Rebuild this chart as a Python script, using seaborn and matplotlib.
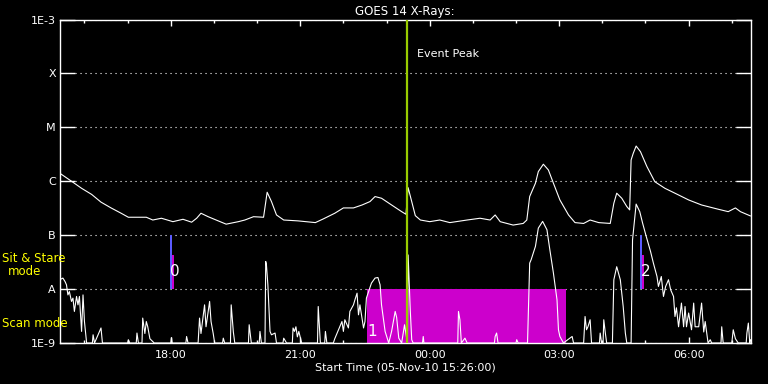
import numpy as np
import pandas as pd
import matplotlib
matplotlib.use("Agg")
import matplotlib.pyplot as plt
import matplotlib.dates as mdates
from matplotlib.ticker import FixedLocator, FixedFormatter, NullLocator
import seaborn as sns

# GOES 14 X-ray flux (minutes after start, W/m^2)
start = pd.Timestamp("2010-11-05 15:26:00")
end = pd.Timestamp("2010-11-06 07:26:00")

long_min = [0, 16, 30, 44, 57, 71, 85, 95, 120, 129, 141, 157, 171, 183, 190, 196,
            206, 220, 231, 248, 257, 269, 283, 288, 294, 301, 311, 331, 355, 366,
            382, 394, 408, 420, 431, 438, 447, 461, 475, 481, 484, 489, 494, 501,
            514, 528, 542, 566, 584, 598, 605, 612, 630, 644, 649, 653, 661, 665,
            672, 679, 686, 695, 707, 716, 728, 737, 749, 765, 770, 774, 781, 788,
            792, 794, 797, 801, 807, 816, 827, 841, 855, 874, 892, 915, 929, 939,
            946, 960]
long_flux = [1.4e-6, 1.0e-6, 7.4e-7, 5.7e-7, 4.1e-7, 3.2e-7, 2.55e-7, 2.15e-7,
             2.15e-7, 1.91e-7, 2.06e-7, 1.78e-7, 1.97e-7, 1.74e-7, 2.06e-7, 2.55e-7,
             2.2e-7, 1.84e-7, 1.6e-7, 1.78e-7, 1.91e-7, 2.2e-7, 2.15e-7, 6.25e-7,
             4.2e-7, 2.37e-7, 1.91e-7, 1.84e-7, 1.71e-7, 2.0e-7, 2.55e-7, 3.2e-7,
             3.2e-7, 3.63e-7, 4.2e-7, 5.2e-7, 4.84e-7, 3.63e-7, 2.73e-7, 2.44e-7,
             7.6e-7, 4.2e-7, 2.3e-7, 1.91e-7, 1.78e-7, 1.91e-7, 1.71e-7, 1.91e-7,
             2.06e-7, 1.91e-7, 2.37e-7, 1.78e-7, 1.54e-7, 1.65e-7, 1.91e-7, 5.2e-7,
             9.2e-7, 1.51e-6, 2.07e-6, 1.62e-6, 9.2e-7, 4.5e-7, 2.37e-7, 1.71e-7,
             1.65e-7, 1.91e-7, 1.71e-7, 1.65e-7, 3.9e-7, 6.0e-7, 4.84e-7, 3.4e-7,
             2.94e-7, 2.48e-6, 3.3e-6, 4.5e-6, 3.54e-6, 1.87e-6, 9.8e-7, 7.4e-7,
             6.0e-7, 4.5e-7, 3.63e-7, 3.03e-7, 2.73e-7, 3.2e-7, 2.73e-7, 2.27e-7]

short_min = [0, 4, 7, 9, 11, 13, 16, 18, 20, 23, 25, 27, 30, 32, 34, 37, 45, 46, 48,
             57, 59, 94, 95, 97, 106, 107, 109, 114, 115, 118, 120, 122, 125, 131,
             154, 155, 156, 175, 176, 178, 192, 194, 196, 201, 203, 208, 210, 213,
             215, 226, 227, 229, 237, 238, 241, 243, 262, 263, 266, 277, 278, 280,
             285, 286, 287, 289, 292, 294, 299, 301, 310, 311, 315, 323, 324, 326,
             328, 330, 332, 336, 358, 359, 362, 368, 369, 371, 380, 382, 392, 394,
             396, 401, 403, 408, 410, 413, 415, 417, 422, 424, 426, 429, 433, 438,
             442, 445, 447, 452, 457, 461, 466, 468, 471, 475, 479, 482, 483, 484,
             487, 489, 491, 504, 505, 506, 553, 554, 556, 558, 563, 566, 604, 605,
             607, 609, 634, 635, 637, 650, 651, 653, 655, 661, 665, 671, 677, 681,
             686, 691, 693, 695, 700, 707, 712, 714, 728, 730, 732, 734, 737, 739,
             750, 751, 753, 755, 756, 758, 760, 768, 770, 774, 779, 783, 786, 788,
             794, 796, 801, 806, 810, 815, 821, 825, 830, 832, 836, 839, 842, 846,
             849, 853, 855, 857, 860, 864, 867, 869, 871, 874, 878, 881, 883, 888,
             892, 895, 897, 901, 904, 906, 919, 920, 922, 934, 936, 939, 943, 954,
             955, 957, 959, 960]
short_flux = [1.5e-8, 1.6e-8, 1.38e-8, 1.2e-8, 7.8e-9, 9.0e-9, 5.9e-9, 6.8e-9, 3.85e-9,
              7.3e-9, 5.1e-9, 7.3e-9, 1.64e-9, 7.8e-9, 2.5e-9, 1e-9, 1e-9, 1.42e-9,
              1e-9, 1.9e-9, 1e-9, 1e-9, 1.15e-9, 1e-9, 1e-9, 1.53e-9, 1e-9, 1e-9,
              2.9e-9, 1.5e-9, 2.5e-9, 2.0e-9, 1.2e-9, 1e-9, 1e-9, 1.26e-9, 1e-9,
              1e-9, 1.32e-9, 1e-9, 1e-9, 2.9e-9, 1.5e-9, 5.1e-9, 2.0e-9, 5.9e-9,
              2.5e-9, 1.5e-9, 1e-9, 1e-9, 1.23e-9, 1e-9, 1e-9, 5.1e-9, 1.6e-9, 1e-9,
              1e-9, 2.18e-9, 1e-9, 1e-9, 1.64e-9, 1e-9, 1e-9, 3.25e-8, 2.82e-8,
              1.2e-8, 1.64e-9, 1.42e-9, 1.53e-9, 1e-9, 1e-9, 1.23e-9, 1e-9, 1e-9,
              1.9e-9, 1.64e-9, 2.0e-9, 1.3e-9, 1.64e-9, 1e-9, 1e-9, 4.75e-9, 1e-9,
              1e-9, 1.64e-9, 1e-9, 1e-9, 1.2e-9, 2.5e-9, 1.64e-9, 2.7e-9, 1.9e-9,
              3.85e-9, 5.1e-9, 6.3e-9, 8.4e-9, 3.33e-9, 5.1e-9, 1.9e-9, 2.5e-9,
              6.8e-9, 9.0e-9, 1.29e-8, 1.6e-8, 1.64e-8, 1.2e-8, 5.1e-9, 1.64e-9,
              1e-9, 1.64e-9, 3.85e-9, 3.0e-9, 1.23e-9, 1e-9, 2.18e-9, 1.2e-9, 1e-9,
              4.3e-8, 4.0e-9, 1.15e-9, 1e-9, 1e-9, 1.32e-9, 1e-9, 1e-9, 3.85e-9,
              2.7e-9, 1e-9, 1.23e-9, 1e-9, 1e-9, 1.32e-9, 1.53e-9, 1e-9, 1e-9,
              1.15e-9, 1e-9, 1e-9, 3.1e-9, 3.03e-8, 3.5e-8, 6.2e-8, 1.35e-7, 1.8e-7,
              1.26e-7, 5.4e-8, 1.98e-8, 6.3e-9, 1.76e-9, 1.32e-9, 1e-9, 1.18e-9,
              1.32e-9, 1e-9, 1e-9, 3.1e-9, 1.76e-9, 2.0e-9, 2.7e-9, 1e-9, 1e-9,
              1.53e-9, 1e-9, 1e-9, 2.7e-9, 1.6e-9, 1e-9, 1e-9, 1.49e-8, 2.6e-8,
              1.49e-8, 4.75e-9, 1.53e-9, 1e-9, 1e-9, 8.2e-8, 3.77e-7, 2.74e-7,
              1.67e-7, 9.5e-8, 5.0e-8, 3.03e-8, 1.71e-8, 1.12e-8, 1.71e-8, 7.3e-9,
              1.12e-8, 1.49e-8, 9.7e-9, 7.3e-9, 3.1e-9, 4.5e-9, 2.0e-9, 5.5e-9,
              2.0e-9, 4.75e-9, 2.0e-9, 3.6e-9, 1.76e-9, 5.5e-9, 2.0e-9, 2.0e-9,
              5.5e-9, 1.6e-9, 2.5e-9, 1e-9, 1.15e-9, 1e-9, 1e-9, 2.0e-9, 1e-9, 1e-9,
              1.76e-9, 1.2e-9, 1e-9, 1e-9, 1.53e-9, 2.34e-9, 1e-9, 1.15e-9]

event_peak = pd.Timestamp("2010-11-05 23:28")
scan_start = pd.Timestamp("2010-11-05 22:33")
scan_end = pd.Timestamp("2010-11-06 03:09")
scan_label = "1"
stare_times = [pd.Timestamp("2010-11-05 17:59"), pd.Timestamp("2010-11-06 04:53")]
stare_labels = ["0", "2"]
stare_minutes = 2.8
stare_top = 4.2e-8

class_levels = [1e-9, 1e-8, 1e-7, 1e-6, 1e-5, 1e-4, 1e-3]
class_labels = ["1E-9", "A", "B", "C", "M", "X", "1E-3"]

sns.set_style("dark")
plt.rcParams.update({
    "figure.facecolor": "black", "axes.facecolor": "black",
    "axes.edgecolor": "white", "text.color": "white",
    "xtick.color": "white", "ytick.color": "white",
    "axes.labelcolor": "white",
})
plt.rcParams["font.family"] = ["DejaVu Sans"]

long_df = pd.DataFrame({"time": start + pd.to_timedelta(long_min, unit="min"), "flux": long_flux})
short_df = pd.DataFrame({"time": start + pd.to_timedelta(short_min, unit="min"), "flux": short_flux})

fig = plt.figure(figsize=(7.68, 3.84), dpi=100)
ax = fig.add_axes([60 / 768, 41 / 384, 690.5 / 768, 323.5 / 384])

# scan mode block and sit & stare markers
ax.fill_between([scan_start, scan_end], class_levels[0], class_levels[1],
                color="#cc00cc", lw=0, zorder=1)
dt = pd.Timedelta(minutes=stare_minutes)
for t in stare_times:
    ax.fill_between([t, t + dt], class_levels[1], class_levels[2], color="#5a5aff", lw=0, zorder=1)
    ax.fill_between([t + dt, t + 2 * dt], class_levels[1], stare_top, color="#cc00cc", lw=0, zorder=1)

sns.lineplot(data=long_df, x="time", y="flux", ax=ax, color="white", lw=0.8,
             estimator=None, sort=False, zorder=3)
sns.lineplot(data=short_df, x="time", y="flux", ax=ax, color="white", lw=0.8,
             estimator=None, sort=False, zorder=3)

ax.axvline(event_peak, color="#99cc00", lw=1.6, zorder=4)
ax.text(event_peak + pd.Timedelta(minutes=14), 2.3e-4, "Event Peak", fontsize=8,
        va="center", ha="left")

for t, lab in zip(stare_times, stare_labels):
    ax.text(t + pd.Timedelta(minutes=7), 2.1e-8, lab, fontsize=11, ha="center", va="center")
ax.text(scan_start + pd.Timedelta(minutes=7), 1.65e-9, scan_label, fontsize=11,
        ha="center", va="center")

ax.set_yscale("log")
ax.set_ylim(class_levels[0], class_levels[-1])
ax.set_xlim(start, end)
ax.yaxis.set_major_locator(FixedLocator(class_levels))
ax.yaxis.set_major_formatter(FixedFormatter(class_labels))
ax.yaxis.set_minor_locator(NullLocator())
ax.xaxis.set_major_locator(mdates.HourLocator(byhour=range(0, 24, 3)))
ax.xaxis.set_minor_locator(mdates.HourLocator())
ax.xaxis.set_major_formatter(mdates.DateFormatter("%H:%M"))

ax.tick_params(axis="y", which="major", direction="in", length=10.8, width=1,
               left=True, right=True, labelsize=8, pad=3)
ax.tick_params(axis="x", which="major", direction="in", length=4.5, width=1,
               top=True, bottom=True, labelsize=8, pad=5)
ax.tick_params(axis="x", which="minor", direction="in", length=2.2, width=1,
               top=True, bottom=True)
ax.grid(axis="y", color="white", lw=0.8, linestyle=(0, (1, 3.5)))
ax.grid(axis="x", visible=False)
for s in ax.spines.values():
    s.set_color("white")
    s.set_linewidth(1)

ax.set_xlabel("Start Time (05-Nov-10 15:26:00)", fontsize=8, labelpad=2)
ax.set_ylabel("")
ax.set_title("GOES 14 X-Rays:", fontsize=8.5, pad=3)

fig.text(2 / 768, 1 - 259 / 384, "Sit & Stare", color="yellow", fontsize=8.5, va="center")
fig.text(25 / 768, 1 - 271.5 / 384, "mode", color="yellow", fontsize=8.5, va="center", ha="center")
fig.text(2 / 768, 1 - 323.5 / 384, "Scan mode", color="yellow", fontsize=8.5, va="center")

fig.savefig("out.png", dpi=100, facecolor="black")
